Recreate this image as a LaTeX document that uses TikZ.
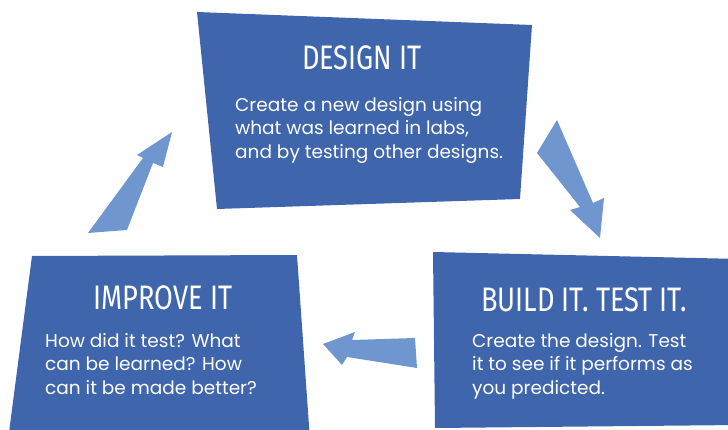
\documentclass[tikz,border=0pt]{standalone}
\usepackage{fontspec}
\setmainfont{Poppins}
\newfontfamily\stagefont[FakeStretch=0.8]{Fira Sans}
\usetikzlibrary{positioning}

\begin{document}
\begin{tikzpicture}[x=1pt,y=-1pt]
\definecolor{boxblue}{HTML}{3F65AD}
\definecolor{arrowblue}{HTML}{6F96CE}
\tikzstyle{stage-box}=[fill=boxblue, draw=none]
\tikzstyle{block-arrow}=[fill=arrowblue, draw=none]
\tikzstyle{stage-title}=[text=white, inner sep=0pt, font=\stagefont\fontsize{34}{34}\selectfont]
\tikzstyle{stage-text}=[text=white, inner sep=0pt, align=left, anchor=north west,
font=\fontsize{18.5}{23.5}\selectfont]

\useasboundingbox (0,0) rectangle (728,430);

% the three stages
\fill[style=stage-box] (197,12) -- (532,25) -- (520,199) -- (217,209) -- cycle;
\fill[style=stage-box] (433,252) -- (740,259) -- (740,425) -- (435,428) -- cycle;
\fill[style=stage-box] (32,256) -- (297,255) -- (310,440) -- (8,440) -- cycle;

\node[stage-title] (design) at (362,58) {DESIGN IT};
\node[stage-text] (design-text) at (235,97) {Create a new design using\\what was learned in labs,\\and by testing other designs.};

\node[stage-title] (build) at (584,300) {BUILD IT. TEST IT.};
\node[stage-text] (build-text) at (472,333) {Create the design. Test\\it to see if it performs as\\you predicted.};

\node[stage-title] (improve) at (163,298) {IMPROVE IT};
\node[stage-text] (improve-text) at (45,333) {How did it test? What\\can be learned? How\\can it be made better?};

% arrows between the stages
\fill[style=block-arrow] (557,120) -- (593,203) -- (604,198) -- (600,238) -- (570,210) -- (580,207) -- (537,153) -- cycle;
\fill[style=block-arrow] (417,368) -- (347,357) -- (342,365) -- (323,344) -- (355,332) -- (352,340) -- (415,338) -- cycle;
\fill[style=block-arrow] (88,233) -- (143,158) -- (137,155) -- (172,132) -- (163,167) -- (153,163) -- (127,230) -- cycle;

\end{tikzpicture}
\end{document}
